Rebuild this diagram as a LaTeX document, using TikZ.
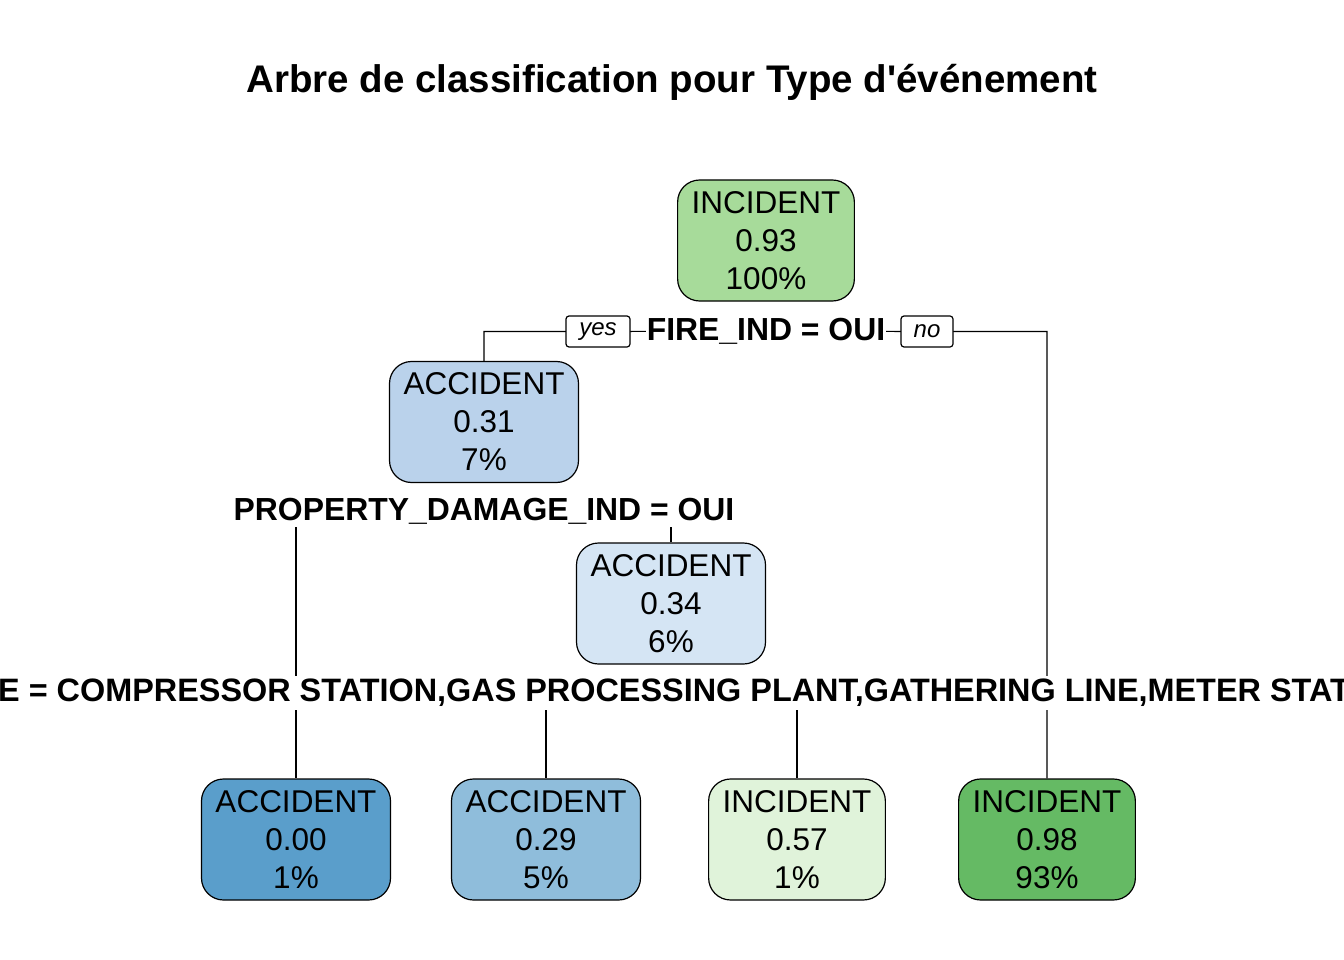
\documentclass[tikz,border=0pt]{standalone}
\usepackage{fontspec}
\setmainfont{Liberation Sans}
\usepackage{tikz}
\usetikzlibrary{positioning,backgrounds,calc}
\definecolor{greenRoot}{HTML}{A7DB9A}
\definecolor{greenDark}{HTML}{65BA64}
\definecolor{greenPale}{HTML}{E0F3DA}
\definecolor{blueMid}{HTML}{BAD2EB}
\definecolor{bluePale}{HTML}{D5E5F4}
\definecolor{blueSoft}{HTML}{8FBDDB}
\definecolor{blueDark}{HTML}{5A9ECB}
\tikzset{
  classnode/.style={rectangle, rounded corners=22pt, draw=black, line width=1.2pt,
                    minimum height=121pt, inner xsep=14pt, inner ysep=0pt, align=center,
                    font=\fontsize{31.5}{38}\selectfont},
  splitrule/.style={rectangle, fill=white, inner xsep=1pt, inner ysep=3pt,
                    font=\fontsize{31.9}{38}\selectfont\bfseries},
  answer/.style={rectangle, rounded corners=3pt, draw=black, fill=white, line width=1.2pt,
                 minimum height=31pt, inner sep=0pt, font=\fontsize{24}{28}\selectfont\itshape},
  branch/.style={draw=black, line width=1.2pt}
}
\begin{document}
\begin{tikzpicture}[x=1pt, y=-1pt]
\useasboundingbox (0,0) rectangle (1344,960);

\node[font=\fontsize{38.5}{44}\selectfont\bfseries] (title) at (672,82) {Arbre de classification pour Type d\textquotesingle événement};

\node[classnode, fill=greenRoot] (root) at (766,240.5) {INCIDENT\\0.93\\100\%};
\node[splitrule] (fire) at (766,331) {FIRE\_IND = OUI};
\node[answer, minimum width=64pt] (yes) at (598,331.5) {yes};
\node[answer, minimum width=52pt] (no) at (927,331.5) {no};

\node[classnode, fill=blueMid] (acc31) at (484,422) {ACCIDENT\\0.31\\7\%};
\node[splitrule] (prop) at (484,511) {PROPERTY\_DAMAGE\_IND = OUI};

\node[classnode, fill=bluePale] (acc34) at (671,603.5) {ACCIDENT\\0.34\\6\%};
\node[splitrule, font=\fontsize{32.4}{38}\selectfont\bfseries, anchor=west] (comp) at (-3,693) {E = COMPRESSOR STATION,GAS PROCESSING PLANT,GATHERING LINE,METER STATION};
\coordinate (split3) at (acc34 |- comp.center);

\node[classnode, fill=blueDark] (leafA) at (296,839.5) {ACCIDENT\\0.00\\1\%};
\node[classnode, fill=blueSoft] (leafB) at (546,839.5) {ACCIDENT\\0.29\\5\%};
\node[classnode, fill=greenPale] (leafC) at (797,839.5) {INCIDENT\\0.57\\1\%};
\node[classnode, fill=greenDark] (leafD) at (1047,839.5) {INCIDENT\\0.98\\93\%};

% connectors sit behind the white split labels
\begin{pgfonlayer}{background}
\draw[branch] (acc31.north) |- (yes.center) -- (fire.center) -- (no.center) -| (leafD.north);
\draw[branch] (prop.center) -| (leafA.north);
\draw[branch] (prop.center) -| (acc34.north);
\draw[branch] (split3) -| (leafB.north);
\draw[branch] (split3) -| (leafC.north);
\end{pgfonlayer}
\end{tikzpicture}
\end{document}
